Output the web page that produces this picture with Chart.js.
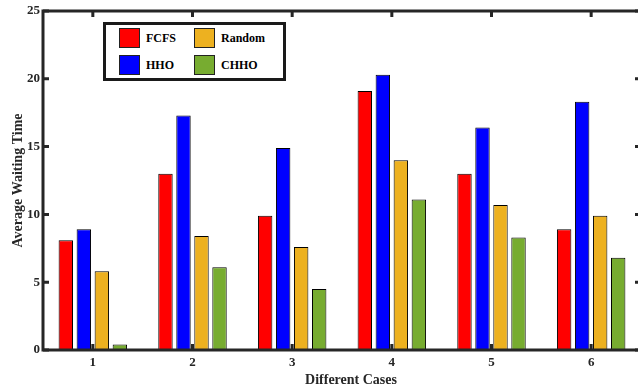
<!DOCTYPE html>
<html>
<head>
<meta charset="utf-8">
<script src="https://cdn.jsdelivr.net/npm/chart.js@4/dist/chart.umd.min.js"></script>
<style>
  html, body { margin: 0; padding: 0; background: #fff; overflow: hidden; width: 638px; height: 390px; }
  #wrap { position: relative; width: 641px; height: 390px; }
  #legend {
    position: absolute; left: 103px; top: 22px; width: 183px; height: 59px;
    box-sizing: border-box; border: 3px solid #1a1a1a; background: #fff;
    padding: 3px 0 0 13px;
    display: grid; grid-template-columns: 75px 75px; grid-auto-rows: 27px;
    font: bold 12px "Liberation Serif", "Times New Roman", serif; color: #000;
  }
  .item { display: flex; align-items: flex-start; }
  .sw { width: 21px; height: 20px; box-sizing: border-box; border: 1px solid #222; flex: none; }
  .lb { margin-left: 6px; line-height: 20px; white-space: nowrap; }
</style>
</head>
<body>
<div id="wrap">
  <canvas id="c" width="641" height="390"></canvas>
  <div id="legend"></div>
</div>
<script>
const categories = ['1', '2', '3', '4', '5', '6'];
const fcfs   = [8.1, 13.0, 9.9, 19.1, 13.0, 8.9];
const hho    = [8.9, 17.3, 14.9, 20.3, 16.4, 18.3];
const random = [5.8, 8.4, 7.6, 14.0, 10.7, 9.9];
const chho   = [0.4, 6.1, 4.5, 11.1, 8.3, 6.8];
const yTicks = [0, 5, 10, 15, 20, 25];
const seriesNames = ['FCFS', 'HHO', 'Random', 'CHHO'];
const seriesColors = ['#FF0000', '#0000FF', '#EDB120', '#77AC30'];
const legendOrder = ['FCFS', 'Random', 'HHO', 'CHHO'];
const xTitle = 'Different Cases';
const yTitle = 'Average Waiting Time';

const seriesData = [fcfs, hho, random, chho];
const axisColor = '#262626';
const fontFamily = '"Liberation Serif", "Times New Roman", serif';

const frame = {
  id: 'frame',
  afterDraw(chart) {
    const {ctx, chartArea: a, scales} = chart;
    const x = scales.x, y = scales.y;
    ctx.save();
    ctx.strokeStyle = axisColor;
    ctx.lineWidth = 3;
    ctx.beginPath();
    ctx.moveTo(a.left, a.top); ctx.lineTo(a.right + 2, a.top);
    ctx.moveTo(a.left, a.bottom); ctx.lineTo(a.right + 2, a.bottom);
    ctx.moveTo(a.left, a.top - 1.5); ctx.lineTo(a.left, a.bottom + 1.5);
    ctx.moveTo(a.right, a.top - 1.5); ctx.lineTo(a.right, a.bottom + 1.5);
    ctx.stroke();
    ctx.beginPath();
    yTicks.forEach(v => {
      const py = y.getPixelForValue(v);
      ctx.moveTo(a.left, py); ctx.lineTo(a.left + 6, py);
      ctx.moveTo(a.right, py); ctx.lineTo(a.right - 6, py);
    });
    categories.forEach((c, i) => {
      const px = x.getPixelForValue(i);
      ctx.moveTo(px, a.bottom); ctx.lineTo(px, a.bottom - 6);
      ctx.moveTo(px, a.top); ctx.lineTo(px, a.top + 6);
    });
    ctx.stroke();
    ctx.fillStyle = axisColor;
    ctx.font = 'bold 14px ' + fontFamily;
    ctx.textAlign = 'center';
    ctx.textBaseline = 'middle';
    ctx.fillText(xTitle, 351, 380);
    ctx.restore();
  }
};

new Chart(document.getElementById('c'), {
  type: 'bar',
  data: {
    labels: categories,
    datasets: seriesNames.map((n, i) => ({
      label: n,
      data: seriesData[i],
      backgroundColor: seriesColors[i],
      borderColor: '#000',
      borderWidth: 1,
      categoryPercentage: 0.723,
      barPercentage: 0.8
    }))
  },
  options: {
    responsive: false,
    animation: false,
    devicePixelRatio: 1,
    layout: { padding: { top: 11, left: 0, right: 0, bottom: 0 } },
    plugins: { legend: { display: false }, tooltip: { enabled: false } },
    scales: {
      x: {
        grid: { display: false, drawTicks: false },
        border: { display: false },
        ticks: { color: axisColor, padding: 5, font: { family: fontFamily, size: 13, weight: 'bold' } },
        afterFit(s) { s.height = 40; }
      },
      y: {
        min: 0, max: 25,
        afterBuildTicks(s) { s.ticks = yTicks.map(v => ({ value: v })); },
        grid: { display: false, drawTicks: false },
        border: { display: false },
        ticks: { color: axisColor, padding: 3, font: { family: fontFamily, size: 13, weight: 'bold' } },
        title: {
          display: true, text: yTitle, color: axisColor,
          font: { family: fontFamily, size: 14, weight: 'bold' },
          padding: { top: 10, bottom: 0 }
        },
        afterFit(s) { s.width = 43; }
      }
    }
  },
  plugins: [frame]
});

const leg = document.getElementById('legend');
legendOrder.forEach(n => {
  const i = seriesNames.indexOf(n);
  const it = document.createElement('div');
  it.className = 'item';
  const sw = document.createElement('span');
  sw.className = 'sw';
  sw.style.background = seriesColors[i];
  const lb = document.createElement('span');
  lb.className = 'lb';
  lb.textContent = n;
  it.appendChild(sw); it.appendChild(lb);
  leg.appendChild(it);
});
</script>
</body>
</html>
